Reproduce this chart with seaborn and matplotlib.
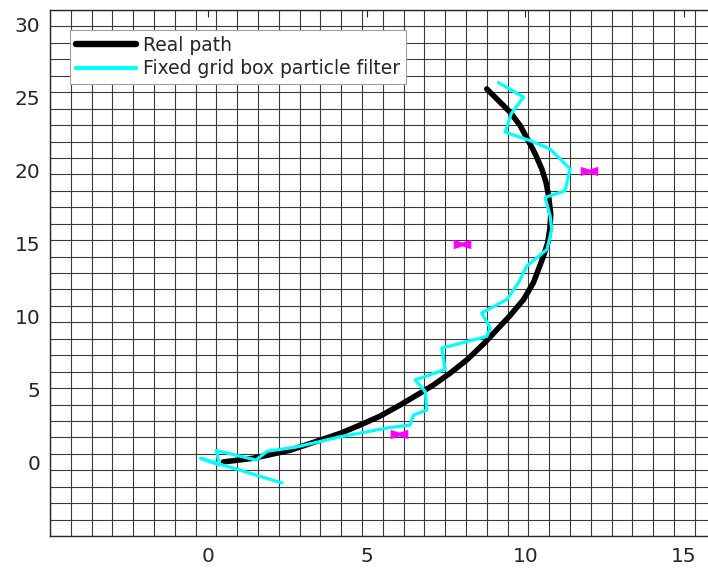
import numpy as np
import pandas as pd
import matplotlib
matplotlib.use("Agg")
import matplotlib.pyplot as plt
import seaborn as sns
from matplotlib.ticker import FixedLocator

# 真实路径
real_x = [0.47, 1.41, 2.58, 3.52, 4.15, 4.78, 5.41, 6.05, 6.67, 7.10, 7.62,
          8.15, 8.68, 9.10, 9.52, 9.94, 10.25, 10.41, 10.57, 10.70, 10.77,
          10.80, 10.73, 10.65, 10.52, 10.31, 10.09, 9.83, 9.52, 9.15, 8.78]
real_y = [0.07, 0.32, 0.87, 1.56, 2.02, 2.59, 3.20, 3.97, 4.77, 5.34, 6.14,
          7.05, 8.15, 9.12, 10.10, 11.18, 12.33, 13.24, 14.16, 15.05, 16.00,
          17.00, 18.28, 19.20, 20.10, 21.15, 22.06, 23.10, 24.00, 24.80, 25.60]

# 粒子滤波估计路径
pf_x = [2.32, -0.25, 0.35, 0.25, 1.50, 1.85, 2.75, 4.15, 5.73, 6.36, 6.47,
        6.89, 6.84, 6.52, 7.47, 7.36, 8.78, 8.89, 8.62, 9.41, 9.78, 10.04,
        10.68, 10.83, 10.78, 10.62, 11.25, 11.41, 10.78, 10.15, 9.36, 9.55,
        9.94, 9.15]
pf_y = [-1.37, 0.32, -0.15, 0.85, 0.20, 0.80, 1.08, 1.79, 2.43, 2.59, 3.28,
        3.62, 4.88, 5.68, 6.40, 7.86, 8.66, 9.24, 10.27, 11.18, 12.33, 13.47,
        14.62, 16.00, 16.90, 18.17, 18.63, 20.12, 21.49, 22.06, 22.64, 23.90,
        25.04, 26.03]

# 地标
landmark_x = [6, 8, 12]
landmark_y = [2, 15, 20]

x_lim = (-5, 16)
y_lim = (-5, 31)
n_boxes = 32
x_ticks = [0, 5, 10, 15]
y_ticks = [0, 5, 10, 15, 20, 25, 30]

sns.set_style("white")
plt.rcParams['font.family'] = ['DejaVu Sans']

fig = plt.figure(figsize=(7.08, 5.72), dpi=100)
ax = fig.add_axes([50 / 708, 36 / 572, 665.6 / 708, 526 / 572])

real_df = pd.DataFrame({'x': real_x, 'y': real_y})
pf_df = pd.DataFrame({'x': pf_x, 'y': pf_y})
lm_df = pd.DataFrame({'x': landmark_x, 'y': landmark_y})

sns.lineplot(data=real_df, x='x', y='y', sort=False, estimator=None,
             color='black', lw=4.0, label='Real path', ax=ax, zorder=3,
             solid_joinstyle='round')
sns.lineplot(data=pf_df, x='x', y='y', sort=False, estimator=None,
             color='#00FFFF', lw=2.3, label='Fixed grid box particle filter',
             ax=ax, zorder=4)

# 蝴蝶结形状的地标标记
bowtie = [(-1, -0.53), (0, -0.22), (1, -0.53), (1, 0.53), (0, 0.22), (-1, 0.53)]
sns.scatterplot(data=lm_df, x='x', y='y', marker=bowtie, s=160,
                color='#FF00FF', linewidth=0, legend=False, ax=ax, zorder=5)

ax.set_xlim(*x_lim)
ax.set_ylim(*y_lim)
ax.set_xlabel('')
ax.set_ylabel('')

# 网格（固定格子）
ax.xaxis.set_minor_locator(FixedLocator(np.linspace(x_lim[0], x_lim[1], n_boxes + 1)))
ax.yaxis.set_minor_locator(FixedLocator(np.linspace(y_lim[0], y_lim[1], n_boxes + 1)))
ax.grid(False, which='major')
ax.grid(True, which='minor', color='#3a3a3a', lw=0.8)
ax.set_axisbelow(True)

ax.set_xticks(x_ticks)
ax.set_yticks(y_ticks)
ax.tick_params(which='minor', length=0)
ax.tick_params(which='major', direction='in', length=5, width=0.8,
               top=True, right=True, labelsize=14.5, colors='#262626',
               labelcolor='#262626')
ax.tick_params(axis='x', pad=8)
ax.tick_params(axis='y', pad=7)
for sp in ax.spines.values():
    sp.set_color('#262626')
    sp.set_linewidth(1.0)

leg = ax.legend(loc='upper left', bbox_to_anchor=(20 / 665.6, 1 - 20 / 526),
                borderaxespad=0, fontsize=13.5, frameon=True, fancybox=False,
                handlelength=3.2, handletextpad=0.4, borderpad=0.3,
                labelspacing=0.25, framealpha=1)
leg.get_frame().set_edgecolor('#a0a0a0')
leg.get_frame().set_linewidth(0.8)
leg_lines = leg.get_lines()
leg_lines[0].set_linewidth(4.6)
leg_lines[1].set_linewidth(3.0)

fig.savefig('out.png', dpi=100)
plt.close(fig)
